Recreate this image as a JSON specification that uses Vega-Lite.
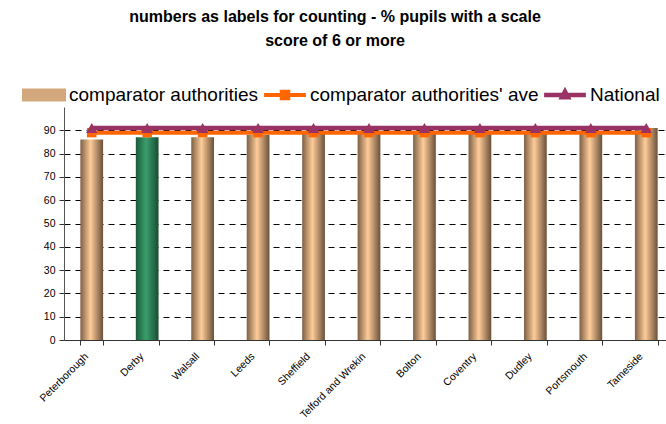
{
  "$schema": "https://vega.github.io/schema/vega-lite/v6.json",
  "width": 610,
  "height": 233,
  "autosize": {"type": "none"},
  "padding": {"left": 64, "top": 107, "right": 0, "bottom": 84},
  "background": "white",
  "title": {
    "text": ["numbers as labels for counting - % pupils with a scale", "score of 6 or more"],
    "font": "Liberation Sans",
    "fontSize": 16,
    "fontWeight": "bold",
    "color": "#000000",
    "anchor": "middle",
    "dx": -34,
    "offset": 24,
    "lineHeight": 24
  },
  "data": {
    "values": [
      {"name": "Peterborough", "value": 86, "ave": 89, "national": 91},
      {"name": "Derby", "value": 87, "ave": 89, "national": 91},
      {"name": "Walsall", "value": 87, "ave": 89, "national": 91},
      {"name": "Leeds", "value": 88, "ave": 89, "national": 91},
      {"name": "Sheffield", "value": 89, "ave": 89, "national": 91},
      {"name": "Telford and Wrekin", "value": 89, "ave": 89, "national": 91},
      {"name": "Bolton", "value": 89, "ave": 89, "national": 91},
      {"name": "Coventry", "value": 89, "ave": 89, "national": 91},
      {"name": "Dudley", "value": 89, "ave": 89, "national": 91},
      {"name": "Portsmouth", "value": 89, "ave": 89, "national": 91},
      {"name": "Tameside", "value": 91, "ave": 89, "national": 91}
    ]
  },
  "encoding": {
    "x": {
      "field": "name",
      "type": "nominal",
      "sort": null,
      "scale": {"paddingInner": 0.59, "paddingOuter": 0.295},
      "axis": {
        "title": null,
        "labelAngle": -45,
        "labelFontSize": 10.5,
        "labelFont": "Liberation Sans",
        "labelColor": "#000000",
        "labelPadding": 6,
        "labelOffset": -9,
        "tickBand": "extent",
        "tickSize": 5,
        "tickColor": "#333333",
        "domainColor": "#333333",
        "grid": false
      }
    }
  },
  "layer": [
    {
      "mark": {"type": "bar"},
      "encoding": {
        "y": {
          "field": "value",
          "type": "quantitative",
          "scale": {"domain": [0, 100], "nice": false},
          "axis": {
            "title": null,
            "values": [0, 10, 20, 30, 40, 50, 60, 70, 80, 90],
            "labelOverlap": false,
            "labelFontSize": 10.5,
            "labelFont": "Liberation Sans",
            "labelColor": "#000000",
            "labelPadding": 4,
            "tickSize": 5,
            "tickColor": "#333333",
            "domainColor": "#555555",
            "grid": true,
            "gridColor": "#000000",
            "gridDash": [6, 5],
            "gridWidth": 1
          }
        },
        "fill": {
          "condition": {
            "test": "datum.name === 'Derby'",
            "value": {
              "gradient": "linear", "x1": 0, "y1": 0, "x2": 1, "y2": 0,
              "stops": [
                {"offset": 0, "color": "#1b5a3a"},
                {"offset": 0.45, "color": "#3a9e6c"},
                {"offset": 1, "color": "#184d32"}
              ]
            }
          },
          "value": {
            "gradient": "linear", "x1": 0, "y1": 0, "x2": 1, "y2": 0,
            "stops": [
              {"offset": 0, "color": "#7d6044"},
              {"offset": 0.45, "color": "#ffcc99"},
              {"offset": 1, "color": "#6a5038"}
            ]
          }
        }
      }
    },
    {
      "mark": {"type": "point", "opacity": 0, "filled": true},
      "encoding": {
        "y": {
          "field": "value",
          "type": "quantitative",
          "axis": {
            "title": null,
            "values": [0, 10, 20, 30, 40, 50, 60, 70, 80, 90],
            "labelOverlap": false,
            "labelFontSize": 10.5,
            "labelFont": "Liberation Sans",
            "labelColor": "#000000",
            "labelPadding": 4,
            "tickSize": 5,
            "tickColor": "#333333",
            "domainColor": "#555555",
            "grid": true,
            "gridColor": "#000000",
            "gridDash": [6, 5],
            "gridWidth": 1
          }
        },
        "color": {
          "datum": "comparator authorities",
          "scale": {
            "domain": ["comparator authorities", "comparator authorities' ave", "National"],
            "range": ["#d2a87c", "#ff6600", "#993366"]
          },
          "legend": {
            "title": null,
            "orient": "none",
            "direction": "horizontal",
            "columns": 3,
            "legendX": -42,
            "legendY": -34,
            "labelFont": "Liberation Sans",
            "labelFontSize": 19,
            "labelColor": "#000000",
            "labelLimit": 400,
            "labelOffset": 3,
            "columnPadding": 4,
            "symbolSize": 1936,
            "encode": {
              "symbols": {
                "update": {
                  "size": {"value": 1936},
                  "opacity": {"value": 1},
                  "fillOpacity": {"value": 1},
                  "strokeWidth": {"value": 0},
                  "stroke": {"value": "transparent"},
                  "shape": [
                    {"test": "datum.value === 'comparator authorities'", "value": "M-1,-0.3L1,-0.3L1,0.3L-1,0.3Z"},
                    {"test": "datum.value === 'National'", "value": "M-0.95,-0.1L0.95,-0.1L0.95,0.1L-0.95,0.1Z M-0.3,0.2L0,-0.38L0.3,0.2Z"},
                    {"value": "M-0.95,-0.09L0.95,-0.09L0.95,0.09L-0.95,0.09Z M-0.24,-0.24L0.24,-0.24L0.24,0.24L-0.24,0.24Z"}
                  ]
                }
              }
            }
          }
        }
      }
    },
    {
      "mark": {"type": "line", "strokeWidth": 4},
      "encoding": {
        "y": {
          "field": "ave",
          "type": "quantitative",
          "axis": {
            "title": null,
            "values": [0, 10, 20, 30, 40, 50, 60, 70, 80, 90],
            "labelOverlap": false,
            "labelFontSize": 10.5,
            "labelFont": "Liberation Sans",
            "labelColor": "#000000",
            "labelPadding": 4,
            "tickSize": 5,
            "tickColor": "#333333",
            "domainColor": "#555555",
            "grid": true,
            "gridColor": "#000000",
            "gridDash": [6, 5],
            "gridWidth": 1
          }
        },
        "color": {"datum": "comparator authorities' ave", "legend": null}
      }
    },
    {
      "mark": {"type": "point", "shape": "square", "filled": true, "size": 90, "opacity": 1},
      "encoding": {
        "y": {
          "field": "ave",
          "type": "quantitative",
          "axis": {
            "title": null,
            "values": [0, 10, 20, 30, 40, 50, 60, 70, 80, 90],
            "labelOverlap": false,
            "labelFontSize": 10.5,
            "labelFont": "Liberation Sans",
            "labelColor": "#000000",
            "labelPadding": 4,
            "tickSize": 5,
            "tickColor": "#333333",
            "domainColor": "#555555",
            "grid": true,
            "gridColor": "#000000",
            "gridDash": [6, 5],
            "gridWidth": 1
          }
        },
        "color": {"datum": "comparator authorities' ave", "legend": null}
      }
    },
    {
      "mark": {"type": "line", "strokeWidth": 4.5},
      "encoding": {
        "y": {
          "field": "national",
          "type": "quantitative",
          "axis": {
            "title": null,
            "values": [0, 10, 20, 30, 40, 50, 60, 70, 80, 90],
            "labelOverlap": false,
            "labelFontSize": 10.5,
            "labelFont": "Liberation Sans",
            "labelColor": "#000000",
            "labelPadding": 4,
            "tickSize": 5,
            "tickColor": "#333333",
            "domainColor": "#555555",
            "grid": true,
            "gridColor": "#000000",
            "gridDash": [6, 5],
            "gridWidth": 1
          }
        },
        "color": {"datum": "National", "legend": null}
      }
    },
    {
      "mark": {"type": "point", "shape": "triangle-up", "filled": true, "size": 130, "opacity": 1},
      "encoding": {
        "y": {
          "field": "national",
          "type": "quantitative",
          "axis": {
            "title": null,
            "values": [0, 10, 20, 30, 40, 50, 60, 70, 80, 90],
            "labelOverlap": false,
            "labelFontSize": 10.5,
            "labelFont": "Liberation Sans",
            "labelColor": "#000000",
            "labelPadding": 4,
            "tickSize": 5,
            "tickColor": "#333333",
            "domainColor": "#555555",
            "grid": true,
            "gridColor": "#000000",
            "gridDash": [6, 5],
            "gridWidth": 1
          }
        },
        "color": {"datum": "National", "legend": null}
      }
    }
  ],
  "config": {
    "view": {"stroke": null},
    "font": "Liberation Sans"
  }
}
